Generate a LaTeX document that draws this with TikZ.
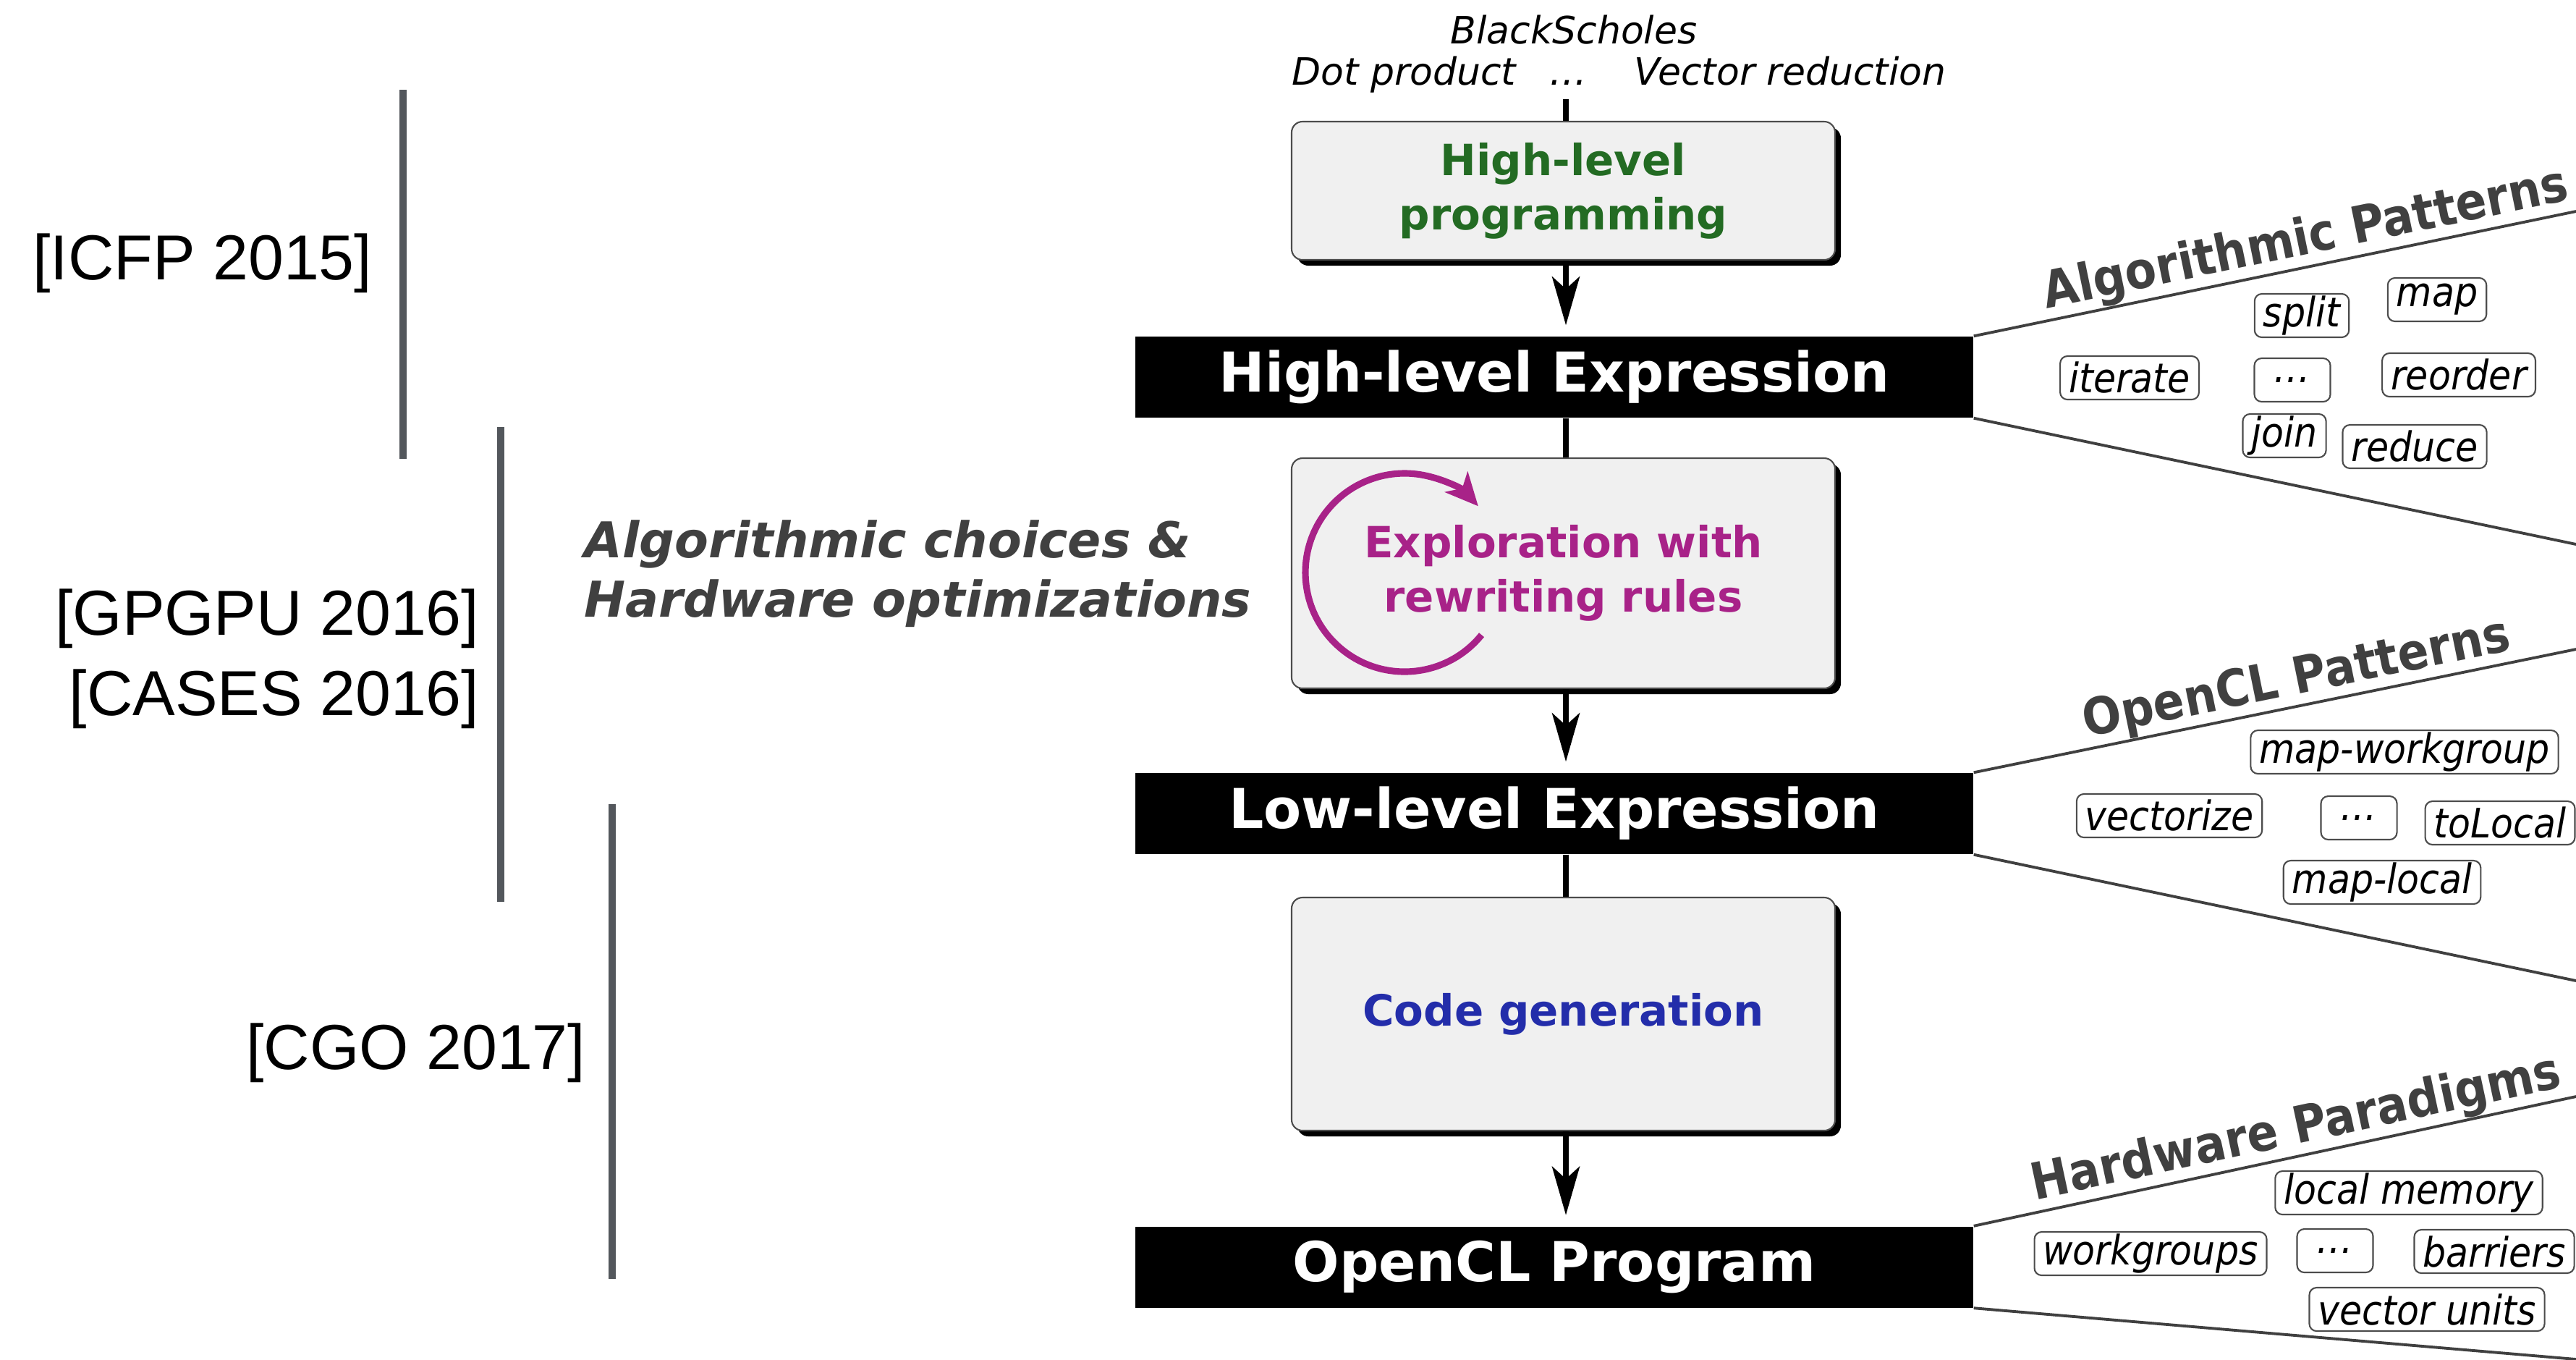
\documentclass[tikz,border=0pt]{standalone}
\usepackage{fontspec}
\setmainfont{DejaVu Sans}
\newfontfamily\venuefont{Liberation Sans}
\newfontfamily\narrowsans[FakeStretch=0.9]{DejaVu Sans}
\usepackage{xcolor}
\usepackage{tikz}
\usetikzlibrary{arrows.meta,shadows}

\definecolor{progGreen}{RGB}{35,107,35}
\definecolor{ruleMagenta}{RGB}{168,34,136}
\definecolor{genBlue}{RGB}{35,45,170}
\definecolor{labelGray}{RGB}{64,64,64}
\definecolor{barGray}{RGB}{83,87,92}
\definecolor{boxFill}{RGB}{240,240,240}

\begin{document}
\begin{tikzpicture}[
    stage/.style={rectangle, draw=black!70, line width=0.6pt, rounded corners=0.15cm,
                  fill=boxFill, minimum width=7.51cm, align=center,
                  font=\fontsize{16.9}{21.3}\selectfont\bfseries,
                  drop shadow={shadow xshift=0.08cm, shadow yshift=-0.08cm, fill=black, opacity=1}},
    exprbar/.style={rectangle, fill=black, text=white, minimum width=11.58cm,
                    minimum height=1.12cm, font=\fontsize{21.6}{26}\selectfont\bfseries},
    flow/.style={line width=2.3pt, -{Stealth[length=0.67cm, width=0.38cm, inset=0.17cm]},
                 shorten >=0.15cm},
    link/.style={line width=2.3pt},
    rewrite/.style={ruleMagenta, line width=2.6pt,
                    -{Stealth[length=0.45cm, width=0.42cm, inset=0.12cm]}},
    fanline/.style={draw=labelGray, line width=1.1pt},
    fantitle/.style={text=labelGray, font=\narrowsans\fontsize{20}{23}\selectfont\bfseries,
                     inner sep=0pt},
    patbox/.style={rectangle, draw=black!70, line width=0.6pt, rounded corners=0.1cm,
                   fill=white, minimum height=0.6cm, inner xsep=0.12cm, inner ysep=0pt,
                   font=\narrowsans\fontsize{16}{18}\selectfont\itshape},
    dotsbox/.style={patbox, minimum width=1.05cm},
    bench/.style={font=\fontsize{14.8}{17}\selectfont\itshape, inner sep=0pt},
    venue/.style={font=\fontsize{25}{31.6}\selectfont\venuefont, inner sep=0pt, align=right},
    bracket/.style={barGray, line width=0.1cm}
]
\clip (0,0) rectangle (35.6,-18.78);

% Benchmarks
\node[bench, anchor=base] (blackscholes) at (21.75,-0.60) {BlackScholes};
\node[bench, anchor=base east] (dotprod) at (20.96,-1.17) {Dot product};
\node[bench, anchor=base] (moreapps) at (21.67,-1.17) {\ldots};
\node[bench, anchor=base west] (vecred) at (22.58,-1.17) {Vector reduction};
\coordinate (spine) at (21.64,-1.37);

% Stages
\node[stage, minimum height=1.91cm, text=progGreen] (hlprog) at (21.605,-2.635) {High-level\\programming};
\node[exprbar] (hlexpr) at (21.48,-5.21) {High-level Expression};
\node[stage, minimum height=3.18cm, text=ruleMagenta] (explore) at (21.605,-7.92) {Exploration with\\rewriting rules};
\node[exprbar] (llexpr) at (21.48,-11.24) {Low-level Expression};
\node[stage, minimum height=3.22cm, text=genBlue] (codegen) at (21.605,-14.01) {Code generation};
\node[exprbar] (oclprog) at (21.48,-17.505) {OpenCL Program};

% Flow
\draw[link] (spine) -- (hlprog.north -| spine);
\draw[flow] (hlprog.south -| spine) -- (hlexpr.north -| spine);
\draw[link] (hlexpr.south -| spine) -- (explore.north -| spine);
\draw[flow] (explore.south -| spine) -- (llexpr.north -| spine);
\draw[link] (llexpr.south -| spine) -- (codegen.north -| spine);
\draw[flow] (codegen.south -| spine) -- (oclprog.north -| spine);

% Rewriting loop
\draw[rewrite] (20.475,-8.772) arc[start angle=-39, end angle=-318, radius=1.37cm];

% Left side
\node[anchor=west, align=left, inner sep=0pt, text=labelGray,
      font=\fontsize{19.4}{23.3}\selectfont\bfseries\itshape] (choices) at (8.07,-7.93)
      {Algorithmic choices \&\\Hardware optimizations};

\node[venue, anchor=base east] (icfp) at (5.15,-3.86) {[ICFP 2015]};
\node[venue, anchor=east] (gpgpu) at (6.63,-9.10) {[GPGPU 2016]\\{[CASES 2016]}};
\node[venue, anchor=base east] (cgo) at (8.10,-14.77) {[CGO 2017]};

\draw[bracket] (5.57,-1.24) -- (5.57,-6.34);
\draw[bracket] (6.92,-5.90) -- (6.92,-12.46);
\draw[bracket] (8.46,-11.11) -- (8.46,-17.67);

% Fans
\coordinate (algtop) at (35.6,-2.92);
\coordinate (algbot) at (35.6,-7.52);
\coordinate (ocltop) at (35.6,-8.97);
\coordinate (oclbot) at (35.6,-13.55);
\coordinate (hwtop) at (35.6,-15.15);
\coordinate (hwbot) at (35.6,-18.78);

\draw[fanline] (hlexpr.north east) -- (algtop) node[pos=0.56, sloped, above, fantitle] {Algorithmic Patterns};
\draw[fanline] (hlexpr.south east) -- (algbot);
\draw[fanline] (llexpr.north east) -- (ocltop) node[pos=0.545, sloped, above, fantitle] {OpenCL Patterns};
\draw[fanline] (llexpr.south east) -- (oclbot);
\draw[fanline] (oclprog.north east) -- (hwtop) node[pos=0.545, sloped, above, fantitle] {Hardware Paradigms};
\draw[fanline] (oclprog.south east) -- (hwbot);

% Algorithmic patterns
\node[patbox] (split) at (31.81,-4.36) {split};
\node[patbox] (map) at (33.68,-4.14) {map};
\node[patbox] (iterate) at (29.43,-5.22) {iterate};
\node[dotsbox] (algdots) at (31.68,-5.25) {\ldots};
\node[patbox] (reorder) at (33.98,-5.18) {reorder};
\node[patbox] (join) at (31.57,-6.02) {join};
\node[patbox] (reduce) at (33.37,-6.17) {reduce};

% OpenCL patterns
\node[patbox] (mapwg) at (33.23,-10.39) {map-workgroup};
\node[patbox] (vectorize) at (29.98,-11.27) {vectorize};
\node[dotsbox] (ocldots) at (32.60,-11.30) {\ldots};
\node[patbox] (tolocal) at (34.55,-11.37) {toLocal};
\node[patbox] (maplocal) at (32.92,-12.19) {map-local};

% Hardware paradigms
\node[patbox] (localmem) at (33.29,-16.48) {local memory};
\node[patbox] (workgroups) at (29.72,-17.32) {workgroups};
\node[dotsbox] (hwdots) at (32.27,-17.28) {\ldots};
\node[patbox] (barriers) at (34.47,-17.29) {barriers};
\node[patbox] (vecunits) at (33.54,-18.09) {vector units};

\end{tikzpicture}
\end{document}
